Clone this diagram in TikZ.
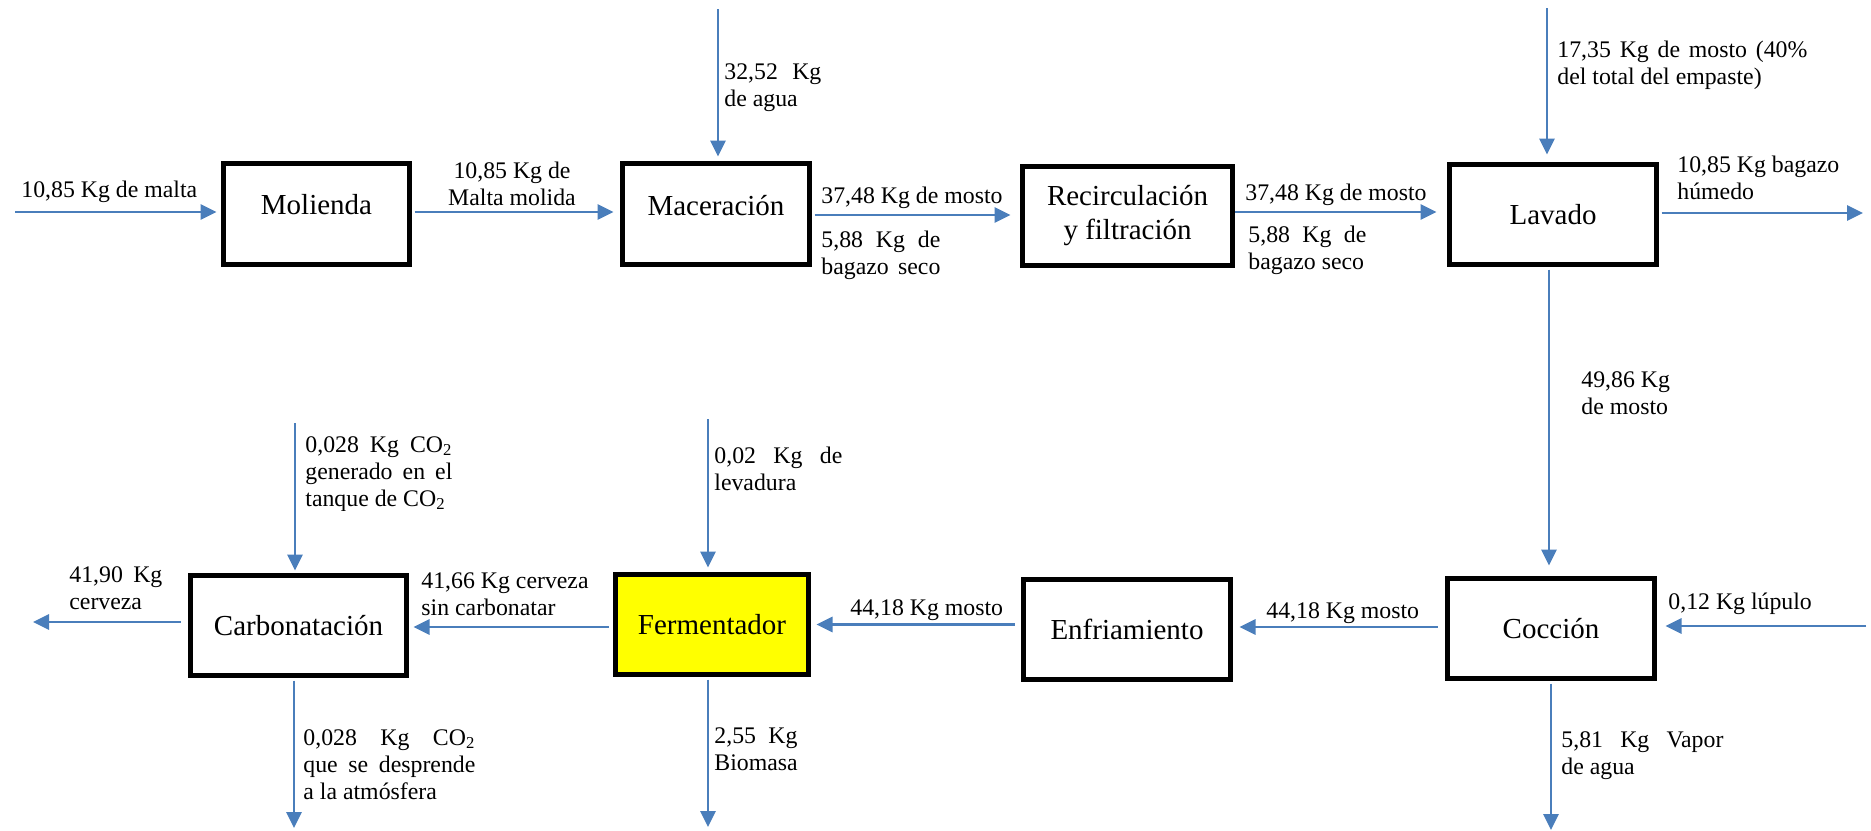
\documentclass[tikz,border=0pt]{standalone}
\usepackage{fontspec}
\setmainfont{Liberation Serif}
\usetikzlibrary{arrows.meta}
\definecolor{flowblue}{RGB}{74,126,187}
\definecolor{fermyellow}{RGB}{255,255,0}
\newcommand\lblfont{\fontsize{11.9}{13.5}\selectfont}
\newcommand\boxfont{\fontsize{14.5}{17}\selectfont}
% justified line of a given width
\newcommand\jl[2]{\makebox[#1][s]{#2}}

\begin{document}
\begin{tikzpicture}[x=0.5pt,y=-0.5pt,
  proc/.style={draw=black, line width=2.5pt, font=\boxfont, align=center, inner sep=0pt},
  lbl/.style={font=\lblfont, inner sep=0pt, anchor=base west, align=left},
  flow/.style={draw=flowblue, line width=1.4pt, -{Triangle[length=8pt,width=7.5pt]}}
]
\fill[white] (0,0) rectangle (1871,830);
\useasboundingbox (0,0) rectangle (1871,830);

% process boxes
\node[proc, minimum width=93pt,   minimum height=50.5pt] (mol) at (316.5,214)  {\raisebox{10pt}{Molienda}};
\node[proc, minimum width=93.5pt, minimum height=50.5pt] (mac) at (716,214)    {\raisebox{9pt}{Maceración}};
\node[proc, minimum width=105pt,  minimum height=49.5pt] (rec) at (1127.5,216) {Recirculación\\y filtración};
\node[proc, minimum width=103.5pt,minimum height=50pt]   (lav) at (1553,214.5) {Lavado};
\node[proc, minimum width=103.5pt,minimum height=50pt]   (coc) at (1551,628.5) {Cocción};
\node[proc, minimum width=103.5pt,minimum height=50pt]   (enf) at (1127,629.5) {Enfriamiento};
\node[proc, minimum width=96.5pt, minimum height=50pt, fill=fermyellow] (fer) at (712,624.5) {Fermentador};
\node[proc, minimum width=108pt,  minimum height=50pt]   (car) at (298.5,625.5) {Carbonatación};

% stream labels (multi-line labels are placed by the baseline of their last line)
\node[lbl] (lmalta) at (21,197) {10,85 Kg de malta};
\node[lbl, anchor=base, align=center] (lmolida) at (512,205) {10,85 Kg de\\Malta molida};
\node[lbl] (lagua) at (724,106) {\jl{48.5pt}{32,52 Kg}\\de agua};
\node[lbl] (lmostoA) at (821,203) {37,48 Kg de mosto};
\node[lbl] (lbagA) at (821,274) {\jl{59.5pt}{5,88 Kg de}\\\jl{59.5pt}{bagazo seco}};
\node[lbl] (lmostoB) at (1245,200) {37,48 Kg de mosto};
\node[lbl] (lbagB) at (1248,269) {\jl{59pt}{5,88 Kg de}\\bagazo seco};
\node[lbl] (lempaste) at (1557,84) {\jl{125pt}{17,35 Kg de mosto (40\%}\\del total del empaste)};
\node[lbl] (lhumedo) at (1677,199) {10,85 Kg bagazo\\húmedo};
\node[lbl] (lmostoC) at (1581,414) {49,86 Kg\\de mosto};
\node[lbl] (llupulo) at (1668,609) {0,12 Kg lúpulo};
\node[lbl] (lmostoD) at (1266,618) {44,18 Kg mosto};
\node[lbl] (lvapor) at (1561,774) {\jl{81pt}{5,81 Kg Vapor}\\de agua};
\node[lbl] (lmostoE) at (850,615) {44,18 Kg mosto};
\node[lbl] (llevadura) at (714,490) {\jl{64pt}{0,02 Kg de}\\levadura};
\node[lbl] (lbiomasa) at (714,770) {\jl{41.5pt}{2,55 Kg}\\Biomasa};
\node[lbl] (lsincarb) at (421,615) {41,66 Kg cerveza\\sin carbonatar};
\node[lbl] (lcerveza) at (69,609) {\jl{46.5pt}{41,90 Kg}\\cerveza};
\begin{scope}
  \clip (300,420) rectangle (480,510);
  \node[lbl] (lco2in) at (305,506) {\jl{73.5pt}{0,028 Kg CO\textsubscript{2}}\\\jl{73.5pt}{generado en el}\\tanque de CO\textsubscript{2}};
\end{scope}
\node[lbl] (lco2out) at (303,799) {\jl{86pt}{0,028 Kg CO\textsubscript{2}}\\\jl{86pt}{que se desprende}\\a la atmósfera};

% free ends of the streams
\coordinate (maltaIn) at (15,212);
\coordinate (aguaIn) at (718,9);
\coordinate (mostoIn) at (1547,8);
\coordinate (bagOut) at (1863,213);
\coordinate (lupIn) at (1866,626);
\coordinate (vapOut) at (1551,830);
\coordinate (levIn) at (708,419);
\coordinate (bioOut) at (708,827);
\coordinate (co2In) at (295,423);
\coordinate (co2Out) at (294,828);
\coordinate (cervOut) at (33,622);

% streams
\draw[flow, shorten >=2.25pt] (maltaIn) -- (maltaIn -| mol.west);
\draw[flow, shorten <=1.25pt, shorten >=3.25pt] ([yshift=1pt]mol.east) -- ([yshift=1pt]mol.east -| mac.west);
\draw[flow, shorten >=2.25pt] (aguaIn) -- (aguaIn |- mac.north);
\draw[flow, shorten <=1.25pt, shorten >=4.75pt] ([yshift=-0.5pt]mac.east) -- ([yshift=-0.5pt]mac.east -| rec.west);
\draw[flow, shorten <=0pt, shorten >=5.25pt] ([yshift=2pt]rec.east) -- ([yshift=2pt]rec.east -| lav.west);
\draw[flow, shorten >=3.75pt] (mostoIn) -- (mostoIn |- lav.north);
\draw[flow, shorten <=1.25pt] ([yshift=0.75pt]lav.east) -- ([yshift=0.75pt]lav.east -| bagOut);
\draw[flow, shorten <=1.25pt, shorten >=5.25pt] ([xshift=-2pt]lav.south) -- ([xshift=-2pt]lav.south |- coc.north);
\draw[flow, shorten >=4.25pt] (lupIn) -- (lupIn -| coc.east);
\draw[flow, shorten <=1.25pt] (coc.south) -- (coc.south |- vapOut);
\draw[flow, shorten <=3.75pt, shorten >=3.25pt] ([yshift=0.75pt]coc.west) -- ([yshift=0.75pt]coc.west -| enf.east);
\draw[flow, shorten <=3.25pt, shorten >=2.75pt] (enf.west |- fer.east) -- (fer.east);
\draw[flow, shorten <=2.25pt, shorten >=2.25pt] ([yshift=-1.25pt]fer.west) -- ([yshift=-1.25pt]fer.west -| car.east);
\draw[flow, shorten >=2.25pt] (levIn) -- (levIn |- fer.north);
\draw[flow, shorten <=1.25pt] (bioOut |- fer.south) -- (bioOut);
\draw[flow, shorten <=3.75pt] ([yshift=1.75pt]car.west) -- ([yshift=1.75pt]car.west -| cervOut);
\draw[flow, shorten >=1.25pt] (co2In) -- (co2In |- car.north);
\draw[flow, shorten <=1.25pt] (co2Out |- car.south) -- (co2Out);
\end{tikzpicture}
\end{document}
